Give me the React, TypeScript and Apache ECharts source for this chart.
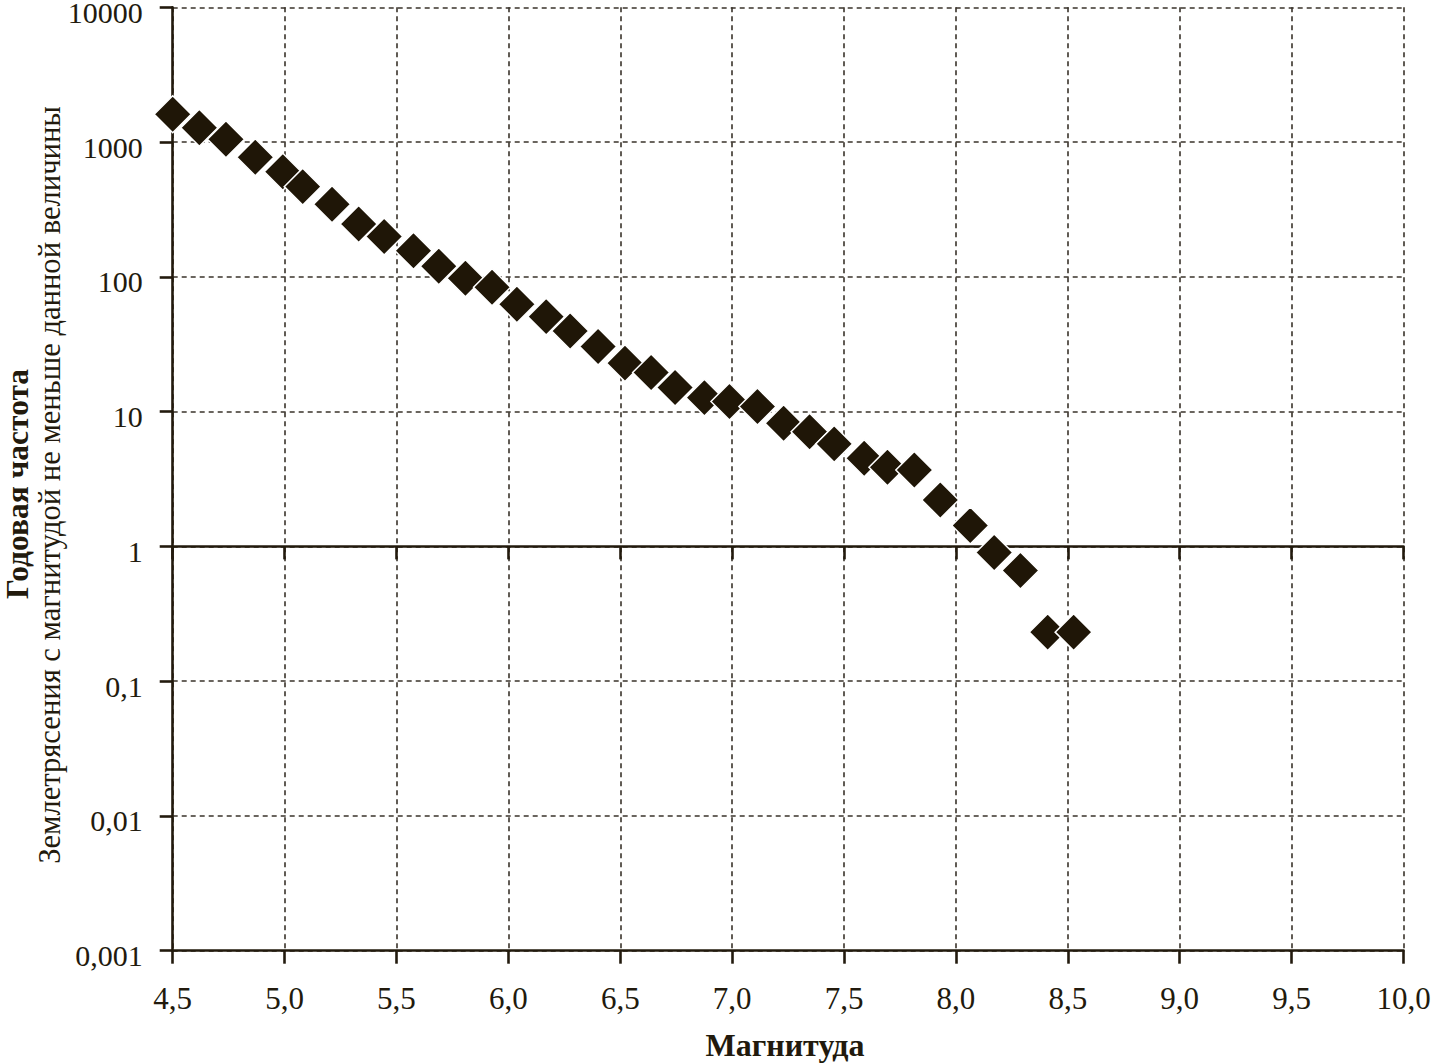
import React, { useEffect, useRef } from "react";
import * as echarts from "echarts";

const magnitudes = [
  4.5, 4.619, 4.738, 4.869, 4.992, 5.081, 5.212, 5.331, 5.445, 5.576, 5.689, 5.808,
  5.927, 6.038, 6.169, 6.276, 6.401, 6.521, 6.638, 6.745, 6.876, 6.988, 7.113, 7.23,
  7.346, 7.456, 7.59, 7.694, 7.814, 7.93, 8.064, 8.171, 8.288, 8.41, 8.526,
];
const frequencies = [
  1607, 1279, 1049, 771, 603, 467, 346, 247, 199, 156, 120, 97.7,
  83.7, 62.6, 50.7, 39.7, 30.4, 22.9, 19.5, 15.1, 12.7, 11.9, 10.9, 8.2,
  7.1, 5.76, 4.51, 3.87, 3.69, 2.21, 1.43, 0.9, 0.662, 0.231, 0.231,
];
const yTickLabels = ["0,001", "0,01", "0,1", "1", "10", "100", "1000", "10000"];
const xTitle = "Магнитуда";
const yTitleBold = "Годовая частота";
const yTitleRegular = "Землетрясения с магнитудой не меньше данной величины";

const INK = "#221a0d";
const FONT = "'Liberation Serif', 'DejaVu Serif', serif";

export default function App() {
  const ref = useRef<HTMLDivElement>(null);
  useEffect(() => {
    if (!ref.current) return;
    const chart = echarts.init(ref.current, undefined, { renderer: "svg" });
    const W = 1431, H = 1064;
    const top = 7.3, bottom = H - 950.7, left = 172.7, right = W - 1403.5;
    const gridH = H - top - bottom;
    const data = magnitudes.map((m, i) => [m, frequencies[i]]);
    const dashed = { show: true, lineStyle: { color: "#3a332b", width: 1.6, type: [5, 4] as any } };
    chart.setOption({
      animation: false,
      backgroundColor: "#ffffff",
      grid: { left, right, top, bottom, outerBoundsMode: "none" as any, containLabel: false },
      xAxis: [
        {
          type: "value",
          min: 4.5,
          max: 10,
          interval: 0.5,
          position: "bottom",
          axisLine: { show: true, lineStyle: { color: INK, width: 2.6 } },
          axisTick: { show: true, length: 13, lineStyle: { color: INK, width: 2.6 } },
          axisLabel: {
            show: true,
            margin: 32,
            color: INK,
            fontFamily: FONT,
            fontSize: 31,
            formatter: (v: number) => v.toFixed(1).replace(".", ","),
          },
          splitLine: dashed,
        },
        {
          type: "value",
          min: 4.5,
          max: 10,
          interval: 0.5,
          position: "bottom",
          offset: -(gridH * 3) / 7,
          axisLine: { show: true, lineStyle: { color: INK, width: 2.6 } },
          axisTick: { show: true, length: 13, lineStyle: { color: INK, width: 2.6 } },
          axisLabel: { show: false },
          splitLine: { show: false },
        },
      ],
      yAxis: {
        type: "log",
        logBase: 10,
        min: 0.001,
        max: 10000,
        axisLine: { show: true, lineStyle: { color: INK, width: 2.6 } },
        axisTick: { show: true, length: 13, lineStyle: { color: INK, width: 2.6 } },
        axisLabel: {
          show: true,
          margin: 30,
          color: INK,
          fontFamily: FONT,
          fontSize: 30,
          verticalAlign: "top",
          lineHeight: 30,
          padding: [-10, 0, 0, 0],
          formatter: (v: number) => yTickLabels[Math.round(Math.log10(v)) + 3] ?? "",
        },
        splitLine: dashed,
      },
      graphic: [
        {
          type: "text",
          x: 785,
          y: 1045,
          style: {
            text: xTitle,
            font: `bold 32px ${FONT}`,
            fill: INK,
            align: "center",
            verticalAlign: "middle",
          },
        },
        {
          type: "text",
          x: 17,
          y: 484,
          rotation: Math.PI / 2,
          style: {
            text: yTitleBold,
            font: `bold 31.5px ${FONT}`,
            fill: INK,
            align: "center",
            verticalAlign: "middle",
          },
        },
        {
          type: "text",
          x: 50,
          y: 485,
          rotation: Math.PI / 2,
          style: {
            text: yTitleRegular,
            font: `30.6px ${FONT}`,
            fill: INK,
            align: "center",
            verticalAlign: "middle",
          },
        },
      ],
      series: [
        {
          type: "scatter",
          xAxisIndex: 0,
          data,
          symbol: "diamond",
          symbolSize: 37,
          itemStyle: { color: "#1f1607", borderColor: "#ffffff", borderWidth: 1.5, opacity: 1 },
          z: 5,
        },
      ],
    });
    return () => chart.dispose();
  }, []);
  return (
    <div
      ref={ref}
      style={{ position: "absolute", left: 0, top: 0, width: 1431, height: 1064, background: "#fff" }}
    />
  );
}
